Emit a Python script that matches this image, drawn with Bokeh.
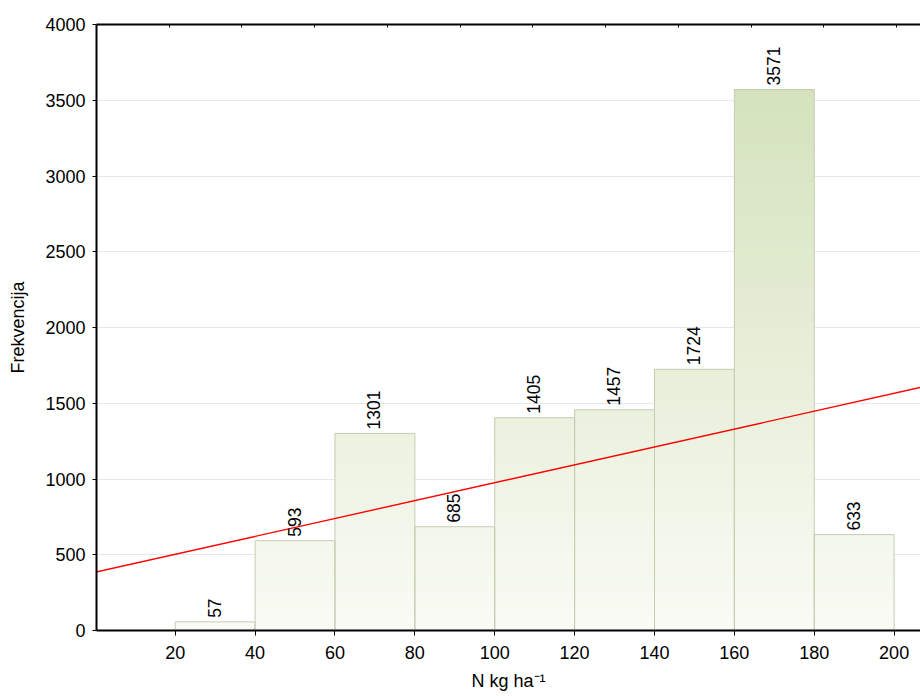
import numpy as np
from bokeh.plotting import figure
from bokeh.models import LinearAxis, Range1d, FixedTicker, ColumnDataSource
from bokeh.embed import file_html
from bokeh.resources import INLINE
from bokeh.core.properties import value

# ---- data ----
bin_left = [20, 40, 60, 80, 100, 120, 140, 160, 180]
bin_right = [40, 60, 80, 100, 120, 140, 160, 180, 200]
counts = [57, 593, 1301, 685, 1405, 1457, 1724, 3571, 633]
fit_x = [0, 206.8]
fit_y = [385, 1606]
x_ticks = [20, 40, 60, 80, 100, 120, 140, 160, 180, 200]
y_ticks = [0, 500, 1000, 1500, 2000, 2500, 3000, 3500, 4000]
top_ticks = [1, 2, 3, 4, 5, 6, 7, 8, 9, 10, 11]

FONT = "Liberation Sans"

p = figure(width=920, height=696, output_backend="svg", toolbar_location=None,
           x_range=Range1d(0.3, 206.6), y_range=Range1d(0, 4000),
           min_border_left=96, min_border_right=0, min_border_top=24,
           min_border_bottom=66)
p.outline_line_color = None
p.background_fill_color = "white"
p.xgrid.grid_line_color = None
p.ygrid.grid_line_color = "#e8e8e8"
p.ygrid.ticker = FixedTicker(ticks=y_ticks)

# gradient fill via horizontal bands (overlapping slightly to avoid seams)
band = 40.0
c0 = np.array([250, 251, 245])   # near bottom
c1 = np.array([212, 226, 188])   # near 3600
bl, br, bb, bt, bc = [], [], [], [], []
for k in range(int(4000 / band)):
    lo = k * band
    hi = lo + band
    t = min(1.0, (lo + band / 2) / 3600.0)
    col = c0 + (c1 - c0) * t
    hexc = "#%02x%02x%02x" % tuple(int(round(v)) for v in col)
    for l, r, h in zip(bin_left, bin_right, counts):
        if h > lo:
            bl.append(l); br.append(r); bb.append(lo)
            bt.append(min(h, hi + band * 0.4)); bc.append(hexc)
p.quad(left=bl, right=br, bottom=bb, top=bt, fill_color=bc, line_color=None)

src = ColumnDataSource(dict(left=bin_left, right=bin_right, top=counts,
                            mid=[(a + b) / 2 for a, b in zip(bin_left, bin_right)],
                            lab=[str(c) for c in counts]))
p.quad(left="left", right="right", bottom=0, top="top", source=src,
       fill_color=None, line_color="#c5ccb2", line_width=1)

p.line(fit_x, fit_y, line_color="#ff0000", line_width=1.4)

p.text(x="mid", y="top", text="lab", source=src, angle=np.pi / 2,
       text_align="left", text_baseline="middle", y_offset=-4, x_offset=-1,
       text_font=value(FONT), text_font_size="17.5px", text_color="black")

# axes
xa = p.xaxis[0]
xa.ticker = FixedTicker(ticks=x_ticks)
xa.axis_label = "N kg ha\u207b\u00b9"
ya = p.yaxis[0]
ya.ticker = FixedTicker(ticks=y_ticks)
ya.axis_label = "Frekvencija"
for ax in (xa, ya):
    ax.axis_line_color = "black"
    ax.axis_line_width = 2
    ax.major_tick_line_color = "black"
    ax.major_tick_in = 0
    ax.minor_tick_line_color = None
    ax.major_label_text_font = FONT
    ax.major_label_text_font_size = "18px"
    ax.major_label_text_color = "black"
    ax.axis_label_text_font = FONT
    ax.axis_label_text_font_size = "18px"
    ax.axis_label_text_font_style = "normal"
    ax.axis_label_text_color = "black"
xa.major_tick_out = 5
xa.major_label_standoff = 10
xa.axis_label_standoff = 9
ya.major_tick_out = 4
ya.major_label_standoff = 7
ya.axis_label_standoff = 14

p.extra_x_ranges = {"top": Range1d(0, 11.33)}
ta = LinearAxis(x_range_name="top", ticker=FixedTicker(ticks=top_ticks))
ta.axis_line_color = "black"
ta.axis_line_width = 2
ta.major_tick_in = 3
ta.major_tick_out = 0
ta.minor_tick_line_color = None
ta.major_label_text_font_size = "2px"
ta.major_label_text_color = None
ta.major_label_standoff = 0
p.add_layout(ta, "above")

open("out.html", "w").write(file_html(p, INLINE))
